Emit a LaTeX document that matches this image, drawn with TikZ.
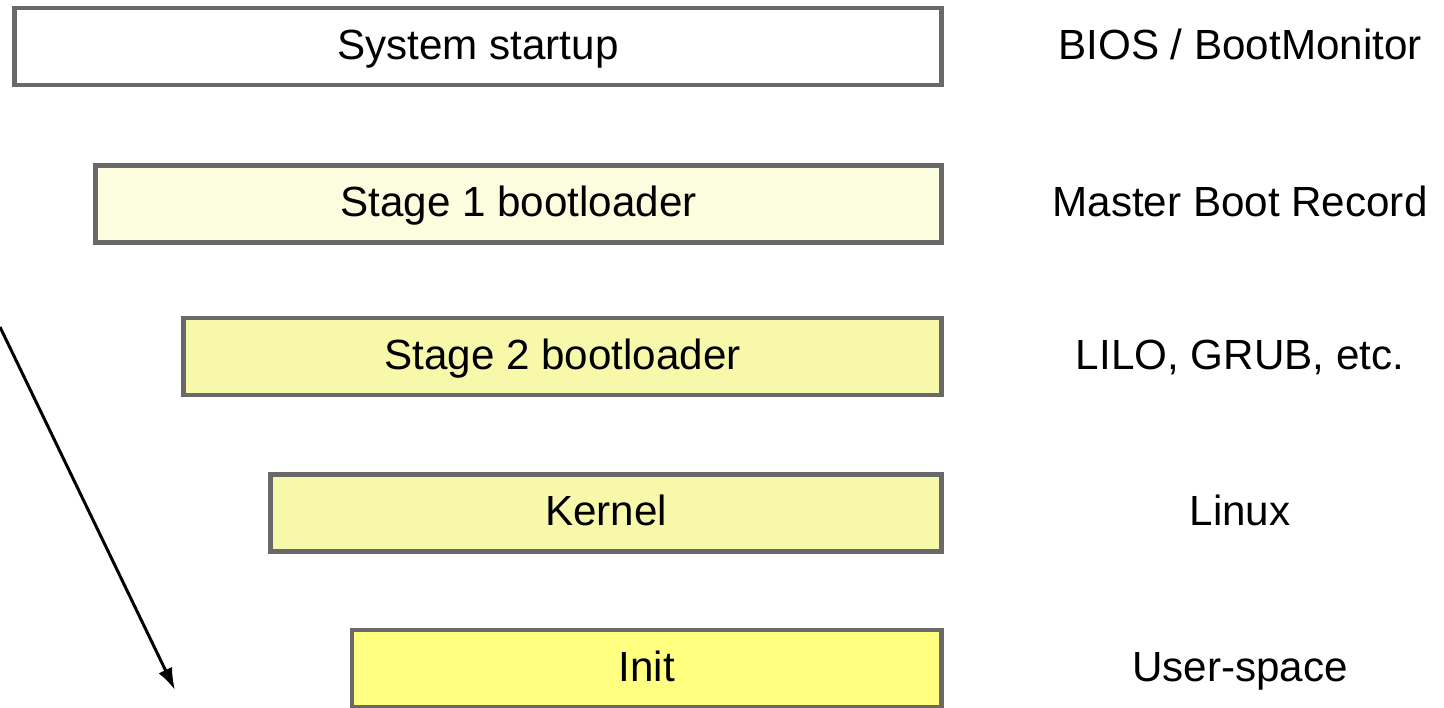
\documentclass[tikz,border=0pt]{standalone}
\usepackage{fontspec}
\setmainfont{Liberation Sans}
\usetikzlibrary{arrows.meta, positioning}

\definecolor{boxline}{RGB}{105,105,105}
\definecolor{fillone}{RGB}{252,252,222}
\definecolor{filltwo}{RGB}{247,248,170}
\definecolor{fillthree}{RGB}{255,255,128}

\begin{document}
\begin{tikzpicture}[
		  % Define the style of the stage boxes
		  stagebox/.style={rectangle, draw=boxline, line width=1.4pt, anchor=north east,
		    minimum height=0.77cm, inner sep=0pt, outer sep=0pt, text height=0.716em, text depth=0pt,
		    font=\fontsize{12}{14}\selectfont},
		  % Define the style of the arrow on the left
		  arrow/.style={-{Latex[length=0.22cm, width=0.15cm]}, line width=0.85pt},
		  % Define the style of the informative text labels
		  infolabel/.style={font=\fontsize{12}{14}\selectfont, text height=0.716em, text depth=0pt,
		    inner sep=0pt, align=center}
		  ]
		  \useasboundingbox (0,0) rectangle (14.44,-7.07);

		  % Boot stages and what runs them
		  \foreach \i/\x/\t/\fillc/\txt/\info in {
		      1/0.145/0.08/white/System startup/{BIOS / BootMonitor},
		      2/0.955/1.655/fillone/Stage 1 bootloader/Master Boot Record,
		      3/1.835/3.18/filltwo/Stage 2 bootloader/{LILO, GRUB, etc.},
		      4/2.705/4.745/filltwo/Kernel/Linux,
		      5/3.52/6.30/fillthree/Init/User-space} {
		    \node[stagebox, fill=\fillc, minimum width=9.415cm-\x cm] (box\i) at (9.415, -\t) {\txt};
		    \node[infolabel] (info\i) at (12.4, {-\t-0.385}) {\info};
		  }

		  % Arrow showing the order
		  \coordinate (arrowstart) at (0, -3.27);
		  \coordinate (arrowend) at (1.75, -6.90);
		  \draw[arrow] (arrowstart) -- (arrowend);
    \end{tikzpicture}
\end{document}
